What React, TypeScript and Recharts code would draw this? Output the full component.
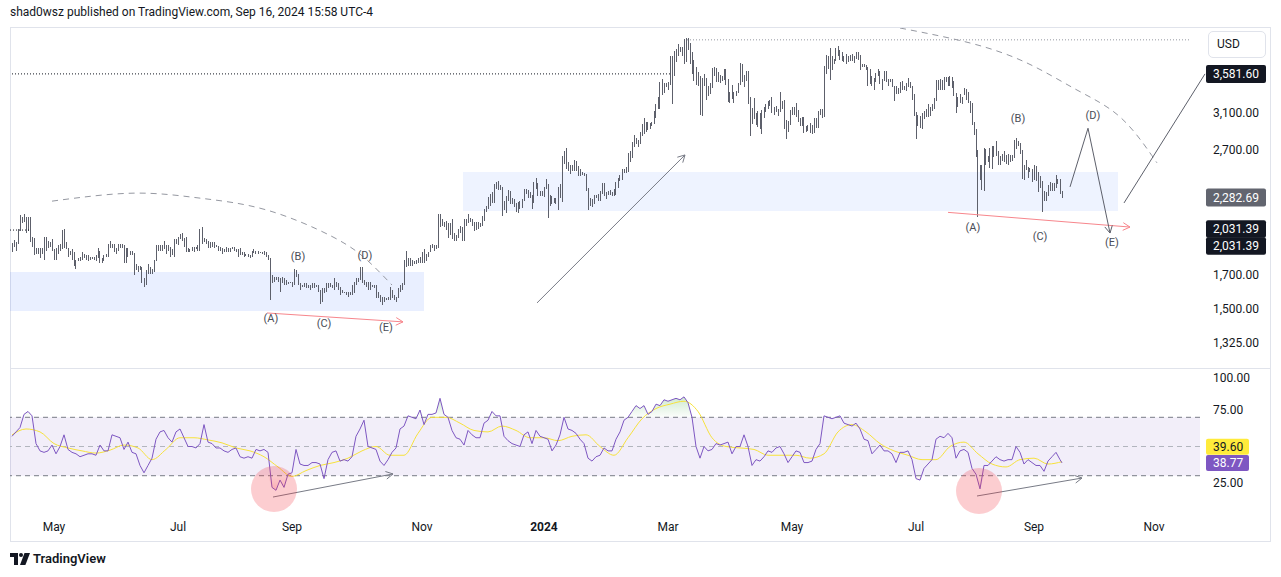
import React from "react";
import {
  ComposedChart,
  Bar,
  Line,
  Area,
  XAxis,
  YAxis,
  ReferenceLine,
  ReferenceArea,
  ReferenceDot,
} from "recharts";

const FONT = "Roboto, 'Liberation Sans', Arial, sans-serif";
const INK = "#131722";

// ETHUSD daily highs / lows, 2023-04-10 .. 2023-12-31 (day 0 = Apr 10)
const HI_2023 = [
  1915, 1935, 1925, 2020, 2125, 2110, 2135, 2110, 2110, 2110, 1960, 1950, 1880, 1880, 1880, 1880, 1960, 1960, 1930, 1920, 1940,
  1870, 1880, 1900, 1910, 2010, 2015, 1920, 1880, 1860, 1870, 1850, 1800, 1810, 1820, 1850, 1840, 1830, 1830, 1820, 1820, 1820, 1830, 1880, 1860, 1810, 1830, 1840, 1910, 1930, 1910, 1905,
  1880, 1910, 1910, 1910, 1900, 1880, 1880, 1860, 1860, 1845, 1770, 1760, 1760, 1750, 1680, 1730, 1770, 1750, 1740, 1800, 1900, 1900, 1900, 1900, 1930, 1900, 1900, 1890, 1870, 1940,
  1945, 1960, 1980, 1990, 1950, 1960, 1880, 1875, 1890, 1890, 1890, 1900, 2020, 2030, 1950, 1940, 1930, 1920, 1920, 1920, 1900, 1895, 1890, 1880, 1870, 1890, 1880, 1880, 1890, 1890, 1870,
  1870, 1880, 1850, 1850, 1840, 1840, 1835, 1860, 1870, 1860, 1860, 1855, 1855, 1860, 1850, 1830, 1810, 1700, 1690, 1690, 1690, 1680, 1690, 1680, 1670, 1660, 1660, 1660, 1740, 1730, 1710,
  1650, 1640, 1650, 1650, 1640, 1640, 1650, 1650, 1640, 1640, 1610, 1620, 1620, 1650, 1650, 1650, 1640, 1680, 1660, 1650, 1630, 1610, 1600, 1600, 1600, 1600, 1640, 1660, 1680, 1680,
  1750, 1750, 1670, 1660, 1660, 1660, 1640, 1640, 1640, 1600, 1580, 1570, 1570, 1560, 1570, 1630, 1610, 1580, 1570, 1620, 1640, 1650, 1800, 1860, 1810, 1810, 1800, 1790, 1800, 1810, 1820,
  1850, 1870, 1840, 1850, 1900, 1910, 1900, 1900, 2130, 2130, 2090, 2070, 2080, 2060, 2060, 2090, 1990, 1970, 2020, 2040, 2030, 2090, 2090, 2130, 2100, 2090, 2070, 2070, 2070, 2060,
  2120, 2170, 2200, 2270, 2300, 2310, 2380, 2400, 2410, 2370, 2360, 2240, 2280, 2330, 2320, 2260, 2250, 2220, 2230, 2240, 2250, 2340, 2340, 2330, 2310, 2290, 2400, 2440, 2390, 2320, 2320,
];
const LO_2023 = [
  1850, 1890, 1860, 1905, 2000, 2060, 2070, 1990, 2000, 1920, 1890, 1830, 1840, 1840, 1810, 1840, 1800, 1860, 1880, 1890, 1860,
  1800, 1800, 1840, 1860, 1870, 1880, 1870, 1820, 1830, 1800, 1760, 1740, 1790, 1790, 1800, 1810, 1800, 1790, 1800, 1805, 1800, 1790, 1810, 1780, 1780, 1790, 1820, 1820, 1880, 1880, 1850,
  1840, 1860, 1880, 1880, 1780, 1780, 1820, 1830, 1830, 1700, 1730, 1720, 1730, 1650, 1625, 1640, 1710, 1710, 1710, 1720, 1790, 1860, 1860, 1860, 1870, 1840, 1860, 1820, 1830, 1820,
  1910, 1900, 1940, 1930, 1890, 1850, 1850, 1850, 1860, 1850, 1870, 1860, 1860, 1910, 1920, 1910, 1880, 1880, 1890, 1880, 1885, 1860, 1860, 1840, 1850, 1850, 1850, 1850, 1870, 1860, 1850,
  1820, 1830, 1830, 1820, 1825, 1820, 1810, 1820, 1845, 1840, 1840, 1845, 1840, 1835, 1820, 1800, 1550, 1650, 1660, 1670, 1660, 1600, 1650, 1640, 1640, 1645, 1650, 1630, 1640, 1690, 1640,
  1610, 1630, 1630, 1620, 1620, 1610, 1620, 1620, 1630, 1600, 1530, 1540, 1590, 1600, 1620, 1630, 1620, 1610, 1630, 1610, 1580, 1590, 1590, 1580, 1570, 1580, 1580, 1590, 1640, 1660,
  1670, 1650, 1640, 1630, 1610, 1610, 1630, 1620, 1560, 1560, 1540, 1520, 1540, 1550, 1550, 1550, 1560, 1550, 1540, 1560, 1600, 1610, 1640, 1750, 1760, 1760, 1760, 1770, 1770, 1780, 1780,
  1780, 1780, 1790, 1820, 1850, 1880, 1860, 1870, 1880, 2030, 2040, 2030, 2010, 1950, 1970, 1940, 1930, 1930, 1950, 1990, 1930, 1930, 2040, 2060, 2070, 2040, 2000, 2010, 2020, 2030,
  2040, 2080, 2150, 2170, 2200, 2220, 2220, 2340, 2330, 2330, 2120, 2160, 2140, 2240, 2210, 2210, 2190, 2150, 2140, 2170, 2180, 2240, 2300, 2260, 2260, 2170, 2220, 2340, 2280, 2280, 2280,
];

// 2024-01-01 .. 2024-09-16
const HI_2024 = [
  2360, 2430, 2380, 2290, 2280, 2260, 2260, 2360, 2380, 2640, 2690, 2720, 2580, 2560, 2560, 2600, 2590, 2550, 2520, 2490, 2480, 2470, 2350, 2260, 2250, 2290, 2290, 2300, 2320, 2390, 2390,
  2310, 2320, 2330, 2310, 2340, 2400, 2440, 2460, 2520, 2520, 2540, 2670, 2690, 2780, 2860, 2830, 2800, 2890, 2980, 3040, 3000, 3000, 2990, 3000, 3120, 3200, 3290, 3480, 3520,
  3460, 3460, 3480, 3830, 3820, 3900, 3930, 4000, 3950, 3950, 4070, 4090, 4090, 4010, 3880, 3770, 3680, 3610, 3560, 3530, 3580, 3530, 3430, 3460, 3660, 3670, 3660, 3610, 3570, 3560, 3650,
  3650, 3510, 3350, 3440, 3350, 3360, 3460, 3730, 3720, 3570, 3620, 3620, 3290, 3160, 3280, 3100, 3120, 3100, 3130, 3170, 3200, 3240, 3250, 3290, 3170, 3180, 3150, 3350, 3240, 3250,
  3020, 3010, 3130, 3170, 3170, 3220, 3130, 3040, 3050, 3050, 2950, 2960, 2990, 2960, 3040, 3040, 3120, 3140, 3140, 3690, 3840, 3820, 3940, 3820, 3790, 3940, 3970, 3910, 3880, 3820, 3850,
  3830, 3840, 3850, 3830, 3880, 3880, 3840, 3720, 3720, 3700, 3680, 3650, 3560, 3530, 3600, 3650, 3620, 3520, 3620, 3620, 3520, 3520, 3510, 3430, 3430, 3400, 3480, 3490, 3420, 3460,
  3530, 3470, 3430, 3320, 3110, 3080, 3060, 3100, 3120, 3150, 3200, 3170, 3200, 3270, 3500, 3500, 3520, 3500, 3540, 3540, 3540, 3560, 3540, 3490, 3340, 3290, 3330, 3290, 3400, 3390, 3350,
  3240, 3220, 3000, 2920, 2700, 2560, 2560, 2720, 2710, 2640, 2720, 2740, 2740, 2790, 2690, 2640, 2660, 2690, 2650, 2660, 2650, 2650, 2800, 2820, 2790, 2770, 2700, 2560, 2600, 2540, 2530,
  2520, 2560, 2550, 2490, 2450, 2410, 2320, 2310, 2370, 2400, 2390, 2390, 2460, 2430, 2430, 2320,
];
const LO_2024 = [
  2270, 2340, 2100, 2200, 2210, 2220, 2210, 2160, 2260, 2230, 2570, 2520, 2500, 2470, 2500, 2500, 2500, 2450, 2450, 2460, 2450, 2320, 2160, 2200, 2190, 2210, 2260, 2240, 2240, 2300, 2280,
  2250, 2290, 2290, 2280, 2280, 2290, 2350, 2410, 2420, 2480, 2480, 2490, 2580, 2620, 2730, 2760, 2730, 2760, 2850, 2870, 2890, 2910, 2920, 2950, 2980, 3040, 3140, 3150, 3310,
  3340, 3410, 3380, 3440, 3200, 3560, 3740, 3830, 3880, 3830, 3720, 3740, 3920, 3720, 3580, 3490, 3440, 3430, 3080, 3060, 3420, 3250, 3300, 3330, 3400, 3550, 3470, 3470, 3460, 3490, 3500,
  3440, 3230, 3210, 3260, 3210, 3300, 3340, 3440, 3470, 3410, 3490, 3200, 2850, 2980, 3030, 2960, 2940, 2920, 2870, 3040, 3110, 3140, 3180, 3100, 3080, 3110, 3070, 3110, 3140, 2920,
  2810, 2890, 2960, 3080, 3080, 3050, 3000, 2950, 2950, 2880, 2890, 2900, 2880, 2870, 2880, 2930, 2930, 3080, 3040, 3050, 3580, 3650, 3500, 3630, 3720, 3760, 3820, 3770, 3760, 3740, 3720,
  3740, 3760, 3760, 3730, 3780, 3770, 3640, 3670, 3670, 3640, 3430, 3450, 3420, 3380, 3470, 3550, 3450, 3370, 3490, 3480, 3420, 3470, 3410, 3240, 3320, 3330, 3340, 3370, 3370, 3360,
  3410, 3400, 3250, 3060, 2810, 2950, 2930, 2920, 3030, 3050, 3050, 3070, 3120, 3140, 3240, 3370, 3380, 3380, 3370, 3480, 3430, 3420, 3400, 3300, 3100, 3170, 3220, 3200, 3310, 3250, 3220,
  3100, 2960, 2860, 2630, 2110, 2420, 2330, 2320, 2560, 2580, 2530, 2520, 2630, 2640, 2560, 2560, 2590, 2580, 2570, 2560, 2580, 2590, 2620, 2710, 2740, 2660, 2430, 2420, 2510, 2440, 2490,
  2400, 2420, 2410, 2310, 2350, 2150, 2240, 2240, 2280, 2320, 2320, 2320, 2350, 2380, 2300, 2260,
];

// RSI(14), one reading every 2nd session from day 0
const RSI = [
  57, 60, 63, 72, 74, 71, 52, 47, 46, 47,
  51, 45, 50, 58, 48, 46, 45, 43, 44, 45,
  45, 44, 51, 47, 47, 58, 57, 56, 48, 53,
  46, 45, 37, 32, 37, 42, 55, 60, 61, 56,
  53, 60, 62, 56, 50, 50, 49, 52, 65, 53,
  52, 49, 49, 47, 46, 48, 49, 43, 42, 43,
  42, 48, 47, 48, 46, 22, 20, 27, 22, 31,
  32, 48, 38, 37, 37, 39, 39, 38, 28, 41,
  46, 47, 40, 41, 40, 43, 57, 62, 68, 50,
  49, 48, 40, 37, 41, 46, 49, 62, 64, 71,
  70, 69, 75, 65, 72, 72, 73, 83, 72, 70,
  61, 56, 55, 51, 61, 58, 56, 56, 66, 68,
  74, 71, 71, 57, 54, 52, 51, 50, 58, 60,
  52, 61, 57, 56, 55, 47, 51, 58, 70, 62,
  61, 59, 55, 52, 42, 40, 43, 44, 49, 47,
  47, 55, 60, 68, 70, 74, 78, 76, 78, 72,
  74, 79, 78, 82, 81, 82, 83, 82, 84, 80,
  70, 50, 42, 50, 47, 48, 52, 51, 52, 53,
  45, 50, 50, 58, 50, 37, 41, 40, 43, 47,
  46, 49, 50, 45, 39, 43, 47, 46, 39, 39,
  40, 48, 52, 71, 70, 69, 70, 71, 66, 65,
  64, 66, 62, 55, 54, 45, 48, 51, 47, 47,
  45, 39, 46, 46, 47, 41, 28, 27, 35, 38,
  41, 55, 57, 56, 59, 56, 42, 47, 48, 46,
  35, 31, 21, 37, 37, 40, 43, 41, 40, 41,
  41, 50, 46, 38, 41, 39, 37, 37, 33, 40,
  43, 46, 41,
];
const RSI_LAST = 38.77;

// RSI-based MA, one reading every 7 sessions from day 0
const RSI_MA = [
  58, 62, 60, 52, 49, 47, 45.5, 47.5, 51, 49,
  41, 48, 56, 56, 54.5, 52.5, 49, 47, 43, 36,
  29.5, 33.5, 37, 39, 42, 47, 50, 44, 44, 59,
  70, 70, 66, 61, 60, 64, 61, 56, 56, 54,
  57, 58, 50, 44, 56, 69, 76, 79, 81, 74,
  56, 50, 49, 48, 44, 44, 44, 42, 45, 60,
  65, 60, 52, 47, 44, 41, 41, 50, 53, 45,
  38, 36, 41, 42, 38, 39.6,
];

const PRICE_TICKS = [1325, 1500, 1700, 2700, 3100];
const RSI_TICKS = [25, 75, 100];
const MONTH_TICKS = [21, 83, 140, 205, 266, 328, 390, 452, 511, 571];
const MONTH_LABELS = ["May", "Jul", "Sep", "Nov", "2024", "Mar", "May", "Jul", "Sep", "Nov"];

const HIGHS = [...HI_2023, ...HI_2024];
const LOWS = [...LO_2023, ...LO_2024];
const priceRows = HIGHS.map((h, i) => ({ i, hl: [LOWS[i], h] }));

const rsiRows = [...RSI.map((v, k) => ({ i: 2 * k, rsi: v })), { i: 525, rsi: RSI_LAST }].map((r) => ({
  ...r,
  ob: [70, Math.max(70, r.rsi)],
  os: [Math.min(30, r.rsi), 30],
}));
const maRows = RSI_MA.map((v, k) => ({ i: 7 * k, ma: v }));

// drawings (day index, price)
const arcLeft = [
  { i: 20, p: 2236 }, { i: 60.5, p: 2303 }, { i: 94, p: 2261 }, { i: 127.5, p: 2163 },
  { i: 160.5, p: 1958 }, { i: 177.5, p: 1798 }, { i: 190, p: 1639 },
];
const arcRight = [
  { i: 444, p: 4245 }, { i: 479, p: 4016 }, { i: 507.5, p: 3729 }, { i: 532.5, p: 3374 },
  { i: 554, p: 3054 }, { i: 569, p: 2673 }, { i: 572.5, p: 2576 },
];
const waveLabels = [
  { i: 129.5, p: 1451, t: "(A)" }, { i: 143, p: 1826, t: "(B)" }, { i: 156, p: 1424, t: "(C)" },
  { i: 176.5, p: 1833, t: "(D)" }, { i: 187, p: 1403, t: "(E)" },
  { i: 480.5, p: 2032, t: "(A)" }, { i: 503, p: 3042, t: "(B)" }, { i: 514, p: 1965, t: "(C)" },
  { i: 540.5, p: 3076, t: "(D)" }, { i: 550, p: 1921, t: "(E)" },
];

const X_DOMAIN: [number, number] = [-1, 594];

const Stick = (p: any) => {
  const { x, y, width, height } = p;
  if (x == null || y == null || !isFinite(y) || !isFinite(height)) return null;
  const cx = Math.floor(x + width / 2) + 0.5;
  const top = Math.round(Math.min(y, y + height));
  const bot = Math.round(Math.max(y, y + height));
  return <line x1={cx} x2={cx} y1={top} y2={bot} stroke="#5d606b" strokeWidth={1} shapeRendering="crispEdges" />;
};

const arrow = (color: string, head: boolean, sw = 1) => (p: any) => {
  const { x1, y1, x2, y2 } = p;
  if (![x1, y1, x2, y2].every((v) => typeof v === "number" && isFinite(v))) return <g />;
  const a = Math.atan2(y2 - y1, x2 - x1);
  const L = 8;
  const s = 0.5;
  const hx1 = x2 - L * Math.cos(a - s);
  const hy1 = y2 - L * Math.sin(a - s);
  const hx2 = x2 - L * Math.cos(a + s);
  const hy2 = y2 - L * Math.sin(a + s);
  return (
    <g>
      <line x1={x1} y1={y1} x2={x2} y2={y2} stroke={color} strokeWidth={sw} />
      {head && <path d={`M${hx1},${hy1} L${x2},${y2} L${hx2},${hy2}`} fill="none" stroke={color} strokeWidth={sw} />}
    </g>
  );
};

const tag = (text: string, bg: string, fg: string, dy = 0, w = 60, h = 18) => (p: any) => {
  const { cx, cy } = p;
  if (cx == null || cy == null) return <g />;
  const y = cy + dy;
  return (
    <g>
      <rect x={cx + 6} y={y - h / 2} width={w} height={h} rx={2} fill={bg} />
      <text x={cx + 13} y={y + 4.3} fontSize={12} fill={fg} fontFamily={FONT}>
        {text}
      </text>
    </g>
  );
};

const waveText = (t: string) => (p: any) => {
  const { cx, cy } = p;
  if (cx == null || cy == null) return <g />;
  return (
    <text x={cx} y={cy + 4} textAnchor="middle" fontSize={11} fill="#4a4d57" fontFamily={FONT}>
      {t}
    </text>
  );
};

const MonthTick = (p: any) => {
  const { x, y, payload } = p;
  const label = MONTH_LABELS[MONTH_TICKS.indexOf(payload.value)];
  return (
    <text x={x} y={y + 7} textAnchor="middle" fontSize={12} fontFamily={FONT} fill={INK} fontWeight={label === "2024" ? 700 : 400}>
      {label}
    </text>
  );
};

const fmt2 = (v: number) => v.toLocaleString("en-US", { minimumFractionDigits: 2, maximumFractionDigits: 2 });

function PricePane() {
  return (
    <ComposedChart width={1281} height={368} data={priceRows} margin={{ top: 28, right: 11, bottom: 0, left: 10 }}>
      <XAxis type="number" dataKey="i" domain={X_DOMAIN} allowDataOverflow hide />
      <YAxis
        orientation="right"
        scale="log"
        domain={[1205.5, 4245]}
        allowDataOverflow
        ticks={PRICE_TICKS}
        tickFormatter={fmt2}
        width={70}
        axisLine={false}
        tickLine={false}
        tickMargin={7}
        tick={{ fontSize: 12, fill: INK, fontFamily: FONT }}
      />
      <ReferenceArea x1={-1} x2={206} y1={1489} y2={1720} fill="#2962ff" fillOpacity={0.1} stroke="none" ifOverflow="hidden" />
      <ReferenceArea x1={225.5} x2={553} y1={2155} y2={2491} fill="#2962ff" fillOpacity={0.08} stroke="none" ifOverflow="hidden" />

      <ReferenceLine segment={[{ x: 0, y: 3581.6 }, { x: 330, y: 3581.6 }]} stroke={INK} strokeDasharray="1 2" ifOverflow="hidden" />
      <ReferenceLine segment={[{ x: -1, y: 2009 }, { x: 9, y: 2009 }]} stroke={INK} strokeDasharray="1 2" ifOverflow="hidden" />
      <ReferenceLine segment={[{ x: 337.5, y: 4063 }, { x: 589, y: 4063 }]} stroke="#9598a1" strokeDasharray="1 2" ifOverflow="hidden" />

      <Bar dataKey="hl" isAnimationActive={false} shape={Stick} />

      <Line data={arcLeft} dataKey="p" type="natural" stroke="#9598a1" strokeWidth={1} strokeDasharray="6 5" dot={false} isAnimationActive={false} />
      <Line data={arcRight} dataKey="p" type="natural" stroke="#9598a1" strokeWidth={1} strokeDasharray="6 5" dot={false} isAnimationActive={false} />

      <ReferenceLine segment={[{ x: 262.5, y: 1534 }, { x: 336.5, y: 2653 }]} shape={arrow("#787b86", true)} ifOverflow="visible" />
      <ReferenceLine segment={[{ x: 127.5, y: 1478 }, { x: 195.5, y: 1430 }]} shape={arrow("#f7868c", true)} ifOverflow="visible" />
      <ReferenceLine segment={[{ x: 468, y: 2145 }, { x: 559, y: 2031.39 }]} shape={arrow("#f7868c", true)} ifOverflow="visible" />
      <ReferenceLine segment={[{ x: 529, y: 2357 }, { x: 538, y: 2929 }]} shape={arrow("#5d606b", false)} ifOverflow="visible" />
      <ReferenceLine segment={[{ x: 538, y: 2929 }, { x: 549, y: 1987 }]} shape={arrow("#5d606b", true)} ifOverflow="visible" />
      <ReferenceLine segment={[{ x: 556, y: 2221 }, { x: 596.5, y: 3581.6 }]} shape={arrow("#5d606b", false)} ifOverflow="visible" />

      {waveLabels.map((w, k) => (
        <ReferenceDot key={k} x={w.i} y={w.p} ifOverflow="visible" shape={waveText(w.t)} />
      ))}

      <ReferenceDot x={594} y={3581.6} ifOverflow="visible" shape={tag("3,581.60", INK, "#ffffff")} />
      <ReferenceDot x={594} y={2282.69} ifOverflow="visible" shape={tag("2,282.69", "#62656f", "#ffffff", 2)} />
      <ReferenceDot x={594} y={2031.39} ifOverflow="visible" shape={tag("2,031.39", INK, "#ffffff", 2, 60, 17.5)} />
      <ReferenceDot x={594} y={2031.39} ifOverflow="visible" shape={tag("2,031.39", INK, "#ffffff", 19, 60, 17.5)} />
    </ComposedChart>
  );
}

function RsiPane() {
  return (
    <ComposedChart width={1281} height={172} data={rsiRows} margin={{ top: 0, right: 11, bottom: 0, left: 10 }}>
      <defs>
        <linearGradient id="obFill" x1="0" y1="0" x2="0" y2="1">
          <stop offset="0%" stopColor="#4caf50" stopOpacity={0.45} />
          <stop offset="100%" stopColor="#4caf50" stopOpacity={0.03} />
        </linearGradient>
        <linearGradient id="osFill" x1="0" y1="0" x2="0" y2="1">
          <stop offset="0%" stopColor="#f23645" stopOpacity={0.03} />
          <stop offset="100%" stopColor="#f23645" stopOpacity={0.35} />
        </linearGradient>
      </defs>
      <XAxis
        type="number"
        dataKey="i"
        domain={X_DOMAIN}
        allowDataOverflow
        ticks={MONTH_TICKS}
        interval={0}
        height={26}
        axisLine={false}
        tickLine={false}
        tick={MonthTick}
      />
      <YAxis
        orientation="right"
        domain={[2.4, 102.4]}
        allowDataOverflow
        ticks={RSI_TICKS}
        tickFormatter={fmt2}
        width={70}
        axisLine={false}
        tickLine={false}
        tickMargin={7}
        tick={{ fontSize: 12, fill: INK, fontFamily: FONT }}
      />
      <ReferenceArea x1={-1} x2={594} y1={30} y2={70} fill="#7e57c2" fillOpacity={0.1} stroke="none" ifOverflow="hidden" />
      <ReferenceLine y={70} stroke="#787b86" strokeDasharray="5 4" />
      <ReferenceLine y={50} stroke="#b2b5be" strokeDasharray="5 4" />
      <ReferenceLine y={30} stroke="#787b86" strokeDasharray="5 4" />

      <ReferenceDot x={131} y={20.9} r={23} fill="#f23645" fillOpacity={0.25} stroke="none" ifOverflow="visible" />
      <ReferenceDot x={483.5} y={19.5} r={23} fill="#f23645" fillOpacity={0.25} stroke="none" ifOverflow="visible" />

      <Area dataKey="ob" type="linear" stroke="none" fill="url(#obFill)" isAnimationActive={false} />
      <Area dataKey="os" type="linear" stroke="none" fill="url(#osFill)" isAnimationActive={false} />
      <Line data={maRows} dataKey="ma" type="monotone" stroke="#f7e23b" strokeWidth={1} dot={false} isAnimationActive={false} />
      <Line dataKey="rsi" type="linear" stroke="#7e57c2" strokeWidth={1} dot={false} isAnimationActive={false} />

      <ReferenceLine segment={[{ x: 130.5, y: 15.4 }, { x: 190.5, y: 31.2 }]} shape={arrow("#787b86", true)} ifOverflow="visible" />
      <ReferenceLine segment={[{ x: 482.5, y: 16.1 }, { x: 535, y: 28.4 }]} shape={arrow("#787b86", true)} ifOverflow="visible" />

      <ReferenceDot x={594} y={39.6} ifOverflow="visible" shape={tag("39.60", "#ffeb3b", INK, -15, 43, 16)} />
      <ReferenceDot x={594} y={RSI_LAST} ifOverflow="visible" shape={tag("38.77", "#7e57c2", "#ffffff", 0, 43, 16)} />
    </ComposedChart>
  );
}

export default function App() {
  return (
    <div style={{ position: "absolute", left: 0, top: 0, width: 1281, height: 577, background: "#ffffff", overflow: "hidden", fontFamily: FONT }}>
      <div style={{ position: "absolute", left: 10, top: 5, fontSize: 12, color: INK }}>
        shad0wsz published on TradingView.com, Sep 16, 2024 15:58 UTC-4
      </div>
      <div style={{ position: "absolute", left: 10, top: 27, width: 1261, height: 515, border: "1px solid #e0e3eb", boxSizing: "border-box" }} />
      <div style={{ position: "absolute", left: 10, top: 368, width: 1261, height: 1, background: "#e0e3eb" }} />
      <div style={{ position: "absolute", left: 0, top: 0 }}>
        <PricePane />
      </div>
      <div style={{ position: "absolute", left: 0, top: 370 }}>
        <RsiPane />
      </div>
      <div
        style={{
          position: "absolute",
          left: 1208,
          top: 31,
          width: 58,
          height: 27,
          border: "1px solid #e0e3eb",
          borderRadius: 5,
          boxSizing: "border-box",
          background: "#ffffff",
          fontSize: 12,
          color: INK,
          lineHeight: "25px",
          paddingLeft: 8,
        }}
      >
        USD
      </div>
      <div style={{ position: "absolute", left: 10, top: 551, display: "flex", alignItems: "center", gap: 3 }}>
        <svg width="20" height="12" viewBox="0 0 20 12">
          <path d="M0 0h8v12H4V4H0z" fill={INK} />
          <circle cx="11" cy="2" r="2" fill={INK} />
          <path d="M14.5 0H20l-4.6 12H10z" fill={INK} />
        </svg>
        <span style={{ fontSize: 13, fontWeight: 600, color: INK }}>TradingView</span>
      </div>
    </div>
  );
}
